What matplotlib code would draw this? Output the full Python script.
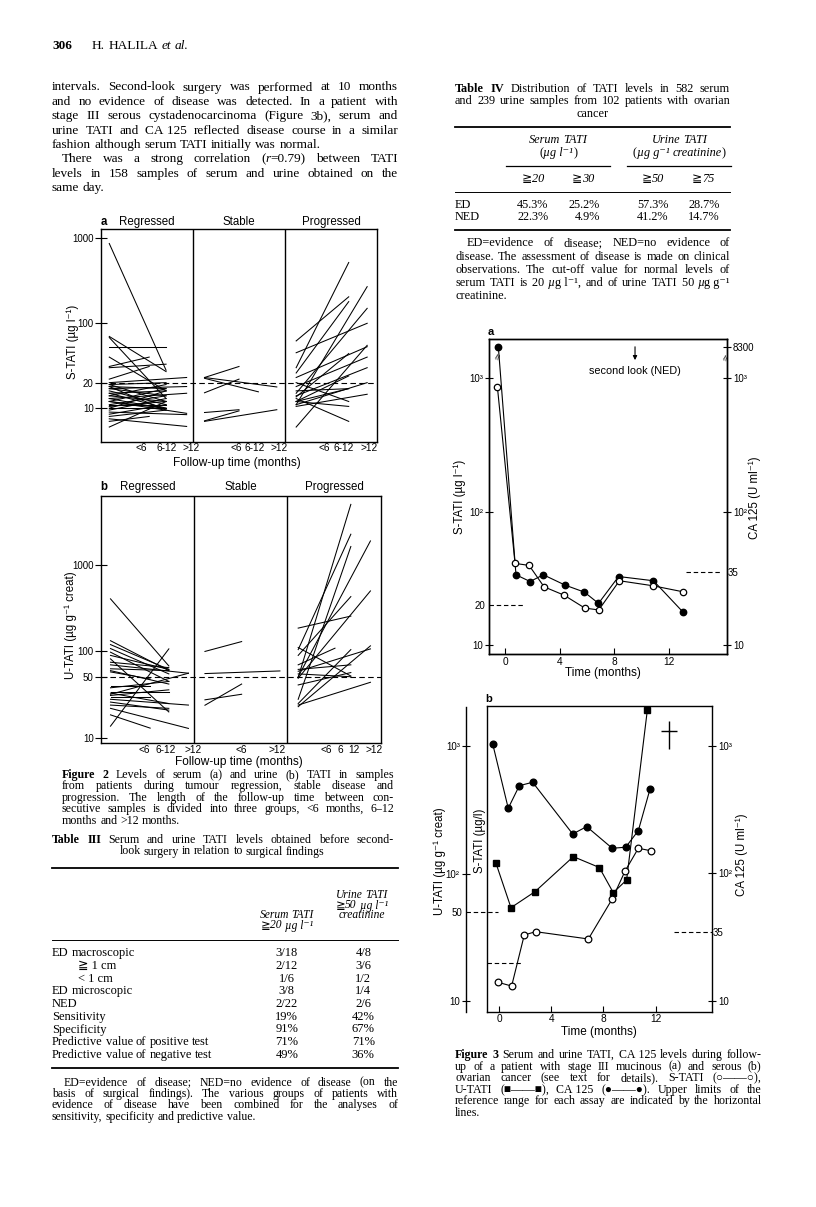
import re
import matplotlib
matplotlib.use("Agg")
import matplotlib.pyplot as plt
from matplotlib.lines import Line2D
from matplotlib.path import Path
from matplotlib.ticker import NullLocator
from matplotlib.transforms import blended_transform_factory as blend

W, H = 816, 1207
SERIF = ["Liberation Serif", "DejaVu Serif", "DejaVu Sans"]
SANS = ["Liberation Sans", "DejaVu Sans"]
plt.rcParams["font.family"] = SANS

# ---------------- Figure 2 data ----------------
# each line: start value, end value, follow-up group (0: <6, 1: 6-12, 2: >12 months)
REG_A_START = [870, 70, 68, 52, 40, 31, 30, 22, 20, 19, 19, 18, 18, 17, 17, 16, 15, 15, 14,
               14, 13, 13, 12, 12, 12, 11, 11, 10.5, 10, 10, 9.5, 9, 8.5, 8, 7.5, 7, 6]
REG_A_END = [28, 27, 13, 52, 16, 40, 33, 31, 23, 20, 12, 17, 9.5, 18, 14, 11, 16, 10, 19,
             12, 15, 9.8, 17, 10, 8.7, 14, 11, 12, 16, 10, 13, 8.4, 11, 9.5, 6.1, 8, 12]
REG_A_GRP = [1, 1, 1, 1, 1, 0, 1, 0, 2, 1, 1, 1, 1, 2, 1, 1, 1, 1, 1,
             1, 2, 1, 1, 1, 2, 1, 1, 1, 1, 1, 1, 2, 1, 1, 2, 0, 1]
STA_A_START = [23, 15.2, 22.5, 23, 8.9, 7.1, 7]
STA_A_END = [31, 22, 15.6, 17.8, 9.6, 9.3, 9.6]
STA_A_GRP = [0, 0, 1, 2, 0, 0, 2]
PRO_A_START = [62, 45, 30, 26, 23, 18, 15, 14, 13.6, 12, 12, 11, 11, 10.5, 13, 6, 12, 16, 20]
PRO_A_END = [205, 100, 520, 180, 53, 40, 150, 30, 44, 17, 10.5, 270, 20, 14.6, 7, 55, 24, 17, 12]
PRO_A_GRP = [1, 2, 1, 1, 2, 2, 2, 2, 1, 1, 1, 2, 2, 2, 1, 2, 1, 1, 1]

REG_B_START = [405, 133, 120, 108, 98, 90, 82, 75, 70, 63, 60, 58, 40, 38, 34, 33, 32, 30,
               28, 26, 24, 22, 18.5, 13.7, 31]
REG_B_END = [68, 60, 62, 55, 45, 62, 20, 65, 56, 60, 42, 48, 40, 45, 34, 25, 56, 30,
             24, 21, 22, 12.9, 13, 107, 36]
REG_B_GRP = [1, 1, 1, 1, 1, 1, 1, 1, 2, 1, 1, 0, 0, 1, 1, 1, 2, 0, 2, 1, 1, 2, 0, 1, 1]
STA_B_START = [100, 55.5, 23.9, 27.6]
STA_B_END = [130, 59.5, 42, 32]
STA_B_GRP = [0, 2, 0, 0]
PRO_B_START = [50, 105, 28, 51, 90, 49, 186, 70, 25, 23, 59, 62, 41, 55, 24, 111]
PRO_B_END = [5000, 2260, 1630, 1890, 430, 500, 256, 109, 105, 116, 107, 70, 57, 51, 44, 52]
PRO_B_GRP = [1, 1, 1, 2, 1, 2, 1, 0, 1, 2, 2, 1, 1, 1, 2, 1]

PANELS = ["Regressed", "Stable", "Progressed"]
A_TICKS = [["<6", "6-12", ">12"], ["<6", "6-12", ">12"], ["<6", "6-12", ">12"]]
B_TICKS = [["<6", "6-12", ">12"], ["<6", ">12"], ["<6", "6", "12", ">12"]]

# ---------------- Figure 3 data ----------------
A_MONTH_CA = [-0.49, 0.8, 1.83, 2.8, 4.39, 5.8, 6.83, 8.3, 10.85, 12.97]
A_CA125 = [8300, 33.6, 29.9, 33.6, 28.1, 24.9, 20.5, 32.6, 30.3, 17.8]
A_MONTH_S = [-0.56, 0.73, 1.76, 2.85, 4.32, 5.83, 6.85, 8.36, 10.8, 13.04]
A_STATI = [865, 40.9, 39.5, 27.3, 23.6, 18.9, 18.3, 30.3, 27.8, 25]
SECOND_LOOK = 9.5

B_MONTH_CA = [-0.48, 0.71, 1.56, 2.58, 5.65, 6.72, 8.68, 9.71, 10.68, 11.57]
B_CA125 = [1030, 323, 485, 516, 203, 232, 157, 160, 216, 455]
B_MONTH_U = [-0.23, 0.92, 2.76, 5.7, 7.69, 8.76, 9.78, 11.37]
B_UTATI = [120, 53.8, 71.8, 135, 111, 70.5, 88.7, 1900]
B_MONTH_S = [-0.05, 0.97, 1.94, 2.81, 6.85, 8.68, 9.66, 10.68, 11.65]
B_STATI = [14, 13.1, 32.9, 34.9, 30.6, 63, 104, 157, 150]
DEATH_MONTH = 13.05

S_LIMIT, U_LIMIT, CA_LIMIT = 20, 50, 35

# ---------------- helpers ----------------
fig = plt.figure(figsize=(W / 100, H / 100), dpi=100)
renderer = fig.canvas.get_renderer()


def ax_px(x0, y0, x1, y1):
    return fig.add_axes([x0 / W, 1 - y1 / H, (x1 - x0) / W, (y1 - y0) / H])


def tx(x, y, s, size=8.5, family=SANS, **kw):
    kw.setdefault("va", "center")
    kw.setdefault("ha", "center")
    return fig.text(x / W, 1 - y / H, s, fontsize=size, family=family, **kw)


def hrule(x0, x1, y, lw):
    fig.add_artist(Line2D([x0 / W, x1 / W], [1 - y / H, 1 - y / H], color="k", lw=lw))


MARK = re.compile(r"(\*[^*]+\*|_[^_]+_)")


def write(x0, y, s, size, x1=None, how="left"):
    rows = []
    for w in [w for w in s.split(" ") if w]:
        parts = []
        for p in MARK.split(w):
            if not p:
                continue
            style, weight = "normal", "normal"
            if p[0] == "*":
                p, weight = p[1:-1], "bold"
            elif p[0] == "_":
                p, style = p[1:-1], "italic"
            t = fig.text(0, 1 - y / H, p, fontsize=size, family=SERIF,
                         fontstyle=style, fontweight=weight, va="baseline")
            parts.append((t, t.get_window_extent(renderer).width))
        rows.append(parts)
    widths = [sum(w for _, w in r) for r in rows]
    gap = size * 100 / 72 * 0.25
    if how == "justify" and len(rows) > 1:
        gap = (x1 - x0 - sum(widths)) / (len(rows) - 1)
    total = sum(widths) + gap * (len(rows) - 1)
    x = {"left": x0, "justify": x0, "center": x0 - total / 2, "right": x0 - total}[how]
    for r in rows:
        for t, w in r:
            t.set_x(x / W)
            x += w
        x += gap


def para(x0, x1, y0, step, lines, size):
    for i, (s, how, ind) in enumerate(lines):
        write(x0 + ind, y0 + i * step, s, size, x1, how)


# ---------------- running head and text ----------------
write(52, 49, "*306*", 9.5)
write(92, 49, "H. HALILA _et_ _al._", 9.6)

para(52, 398, 90.5, 14.35, [
    ("intervals. Second-look surgery was performed at 10 months", "justify", 0),
    ("and no evidence of disease was detected. In a patient with", "justify", 0),
    ("stage III serous cystadenocarcinoma (Figure 3b), serum and", "justify", 0),
    ("urine TATI and CA\u00a0125 reflected disease course in a similar", "justify", 0),
    ("fashion although serum TATI initially was normal.", "left", 0),
    ("There was a strong correlation (_r_=0.79) between TATI", "justify", 10),
    ("levels in 158 samples of serum and urine obtained on the", "justify", 0),
    ("same day.", "left", 0),
], 9.5)

# ---------------- Table IV ----------------
para(455, 730, 91.5, 12.8, [
    ("*Table* *IV*  Distribution of TATI levels in 582 serum", "justify", 0),
    ("and 239 urine samples from 102 patients with ovarian", "justify", 0),
], 8.8)
write(592.5, 117, "cancer", 8.8, how="center")
hrule(455, 730, 126.7, 1.3)
write(558.3, 143, "_Serum_ _TATI_", 8.8, how="center")
write(558.3, 156.3, "(_\u00b5g\u00a0l\u207b\u00b9_)", 8.8, how="center")
write(679.3, 143, "_Urine_ _TATI_", 8.8, how="center")
write(679.3, 156.3, "(_\u00b5g\u00a0g\u207b\u00b9_ _creatinine_)", 8.8, how="center")
hrule(506, 610, 165.7, 0.9)
hrule(627, 730.5, 165.7, 0.9)
for xc, s in zip([533.3, 583.3, 653.3, 703.3], ["20", "30", "50", "75"]):
    write(xc, 182, "\u2267_" + s + "_", 8.8, how="center")
hrule(455, 730, 192.3, 0.7)
T4_ROWS = ["ED", "NED"]
T4_VALUES = [["45.3%", "25.2%", "57.3%", "28.7%"], ["22.3%", "4.9%", "41.2%", "14.7%"]]
for i, (name, vals) in enumerate(zip(T4_ROWS, T4_VALUES)):
    y = 208 + i * 12.4
    write(455, y, name, 8.8)
    for xr, v in zip([548.3, 600, 668.3, 720], vals):
        write(xr, y, v, 8.8, how="right")
hrule(455, 730, 230, 1.3)
para(455, 730, 246.5, 13.1, [
    ("ED=evidence of disease; NED=no evidence of", "justify", 12),
    ("disease. The assessment of disease is made on clinical", "justify", 0),
    ("observations. The cut-off value for normal levels of", "justify", 0),
    ("serum TATI is 20\u00a0_\u00b5_g\u00a0l\u207b\u00b9, and of urine TATI 50\u00a0_\u00b5_g\u00a0g\u207b\u00b9", "justify", 0),
    ("creatinine.", "left", 0),
], 8.8)


# ---------------- Figure 2 ----------------
def follow_up(box, ylim, ticks, cutoff, data, x0s, x1s, labels, lab_y, letter, ylabel, ylab_x, xlab_y):
    ax = ax_px(*box)
    ax.set_yscale("log")
    ax.set_ylim(*ylim)
    ax.set_xlim(0, 3)
    for p, (st, en, gr) in enumerate(data):
        for s, e, g in zip(st, en, gr):
            ax.plot([p + x0s[p], p + x1s[p][g]], [s, e], color="k", lw=0.75)
    for p in (1, 2):
        ax.axvline(p, color="k", lw=1)
    ax.axhline(cutoff, color="k", lw=0.8, dashes=(5, 3))
    ax.set_yticks(ticks, [str(t) for t in ticks])
    ax.yaxis.set_minor_locator(NullLocator())
    ax.set_xticks([])
    ax.tick_params(axis="y", direction="inout", length=8, width=0.8, pad=1, labelsize=7)
    for sp in ax.spines.values():
        sp.set_linewidth(1)
    tr = blend(ax.transData, ax.transAxes)
    for p, name in enumerate(PANELS):
        ax.text(p + 0.5, 1.035, name, transform=tr, ha="center", va="center", fontsize=8.3)
        for pos, lab in zip(labels[0][p], labels[1][p]):
            ax.text(p + pos, lab_y, lab, transform=tr, ha="center", va="center", fontsize=7.3)
    ax.text(0.0, 1.035, letter, transform=tr, ha="left", va="center", fontsize=8.3, fontweight="bold")
    x0, y0, x1, y1 = box
    tx(ylab_x, (y0 + y1) / 2 + 6, ylabel, size=8.3, rotation=90)
    tx((x0 + x1) / 2 - 2, xlab_y, "Follow-up time (months)", size=8.6)
    return ax


A_POS = [[0.44, 0.71, 0.98], [0.466, 0.674, 0.932], [0.43, 0.64, 0.91]]
B_POS = [[0.467, 0.696, 0.99], [0.505, 0.894], [0.418, 0.567, 0.713, 0.93]]

follow_up((100.7, 229, 377.3, 442), (4.0, 1290), [10, 20, 100, 1000], S_LIMIT,
          [(REG_A_START, REG_A_END, REG_A_GRP), (STA_A_START, STA_A_END, STA_A_GRP),
           (PRO_A_START, PRO_A_END, PRO_A_GRP)],
          [0.093, 0.126, 0.12], [[0.526, 0.709, 0.932], [0.50, 0.71, 0.91], [0.55, 0.69, 0.89]],
          (A_POS, A_TICKS), -0.03, "a", "S-TATI (\u00b5g l\u207b\u00b9)", 73, 463.3)

follow_up((100.7, 496, 380.7, 743), (8.75, 6250), [10, 50, 100, 1000], U_LIMIT,
          [(REG_B_START, REG_B_END, REG_B_GRP), (STA_B_START, STA_B_END, STA_B_GRP),
           (PRO_B_START, PRO_B_END, PRO_B_GRP)],
          [0.105, 0.117, 0.116], [[0.53, 0.73, 0.94], [0.51, 0.70, 0.92], [0.51, 0.68, 0.89]],
          (B_POS, B_TICKS), -0.028, "b", "U-TATI (\u00b5g g\u207b\u00b9 creat)", 71, 761.7)

para(62, 394, 778, 11.4, [
    ("*Figure* *2*  Levels of serum (a) and urine (b) TATI in samples", "justify", 0),
    ("from patients during tumour regression, stable disease and", "justify", 0),
    ("progression. The length of the follow-up time between con-", "justify", 0),
    ("secutive samples is divided into three groups, <6 months, 6\u201312", "justify", 0),
    ("months and >12 months.", "left", 0),
], 8.6)

# ---------------- Table III ----------------
write(52, 843, "*Table* *III*  Serum and urine TATI levels obtained before second-", 8.6, 394, "justify")
write(222, 854.5, "look surgery in relation to surgical findings", 8.6, how="center")
hrule(52, 398, 868.3, 1.3)
write(361.7, 898, "_Urine_ _TATI_", 8.3, how="center")
write(361.7, 908.5, "\u2267_50_\u00a0_\u00b5g\u00a0l\u207b\u00b9_", 8.3, how="center")
write(286.7, 918.5, "_Serum_ _TATI_", 8.3, how="center")
write(361.7, 918.5, "_creatinine_", 8.3, how="center")
write(286.7, 928.5, "\u2267_20_\u00a0_\u00b5g\u00a0l\u207b\u00b9_", 8.3, how="center")
hrule(52, 398, 940, 0.7)
T3_ROWS = ["ED macroscopic", "\u2267\u00a01\u00a0cm", "<\u00a01\u00a0cm", "ED microscopic", "NED",
           "Sensitivity", "Specificity", "Predictive value of positive test",
           "Predictive value of negative test"]
T3_SERUM = ["3/18", "2/12", "1/6", "3/8", "2/22", "19%", "91%", "71%", "49%"]
T3_URINE = ["4/8", "3/6", "1/2", "1/4", "2/6", "42%", "67%", "71%", "36%"]
for i, (name, s, u) in enumerate(zip(T3_ROWS, T3_SERUM, T3_URINE)):
    y = 956.3 + i * 12.7
    write(78 if i in (1, 2) else 52, y, name, 9.0)
    write(286.7, y, s, 9.0, how="center")
    write(363.3, y, u, 9.0, how="center")
hrule(52, 398, 1068.3, 1.3)
para(52, 398, 1085.7, 11.3, [
    ("ED=evidence of disease; NED=no evidence of disease (on the", "justify", 12),
    ("basis of surgical findings). The various groups of patients with", "justify", 0),
    ("evidence of disease have been combined for the analyses of", "justify", 0),
    ("sensitivity, specificity and predictive value.", "left", 0),
], 8.5)

# ---------------- Figure 3a ----------------
TICK = dict(direction="inout", length=6, width=0.8, labelsize=7, pad=1.5)
ax = ax_px(489.3, 339.3, 726.7, 654)
ax.set_yscale("log")
A_TOP = 1963
BREAK_POS = 1729  # where the off-scale CA 125 value is drawn
ax.set_ylim(8.55, A_TOP)
ax.set_xlim(-1.15, 16.2)
ca_shown = [v if v < A_TOP else BREAK_POS for v in A_CA125]
ax.plot(A_MONTH_CA, ca_shown, color="k", lw=0.8, marker="o", ms=4.6, mfc="k", mec="k", zorder=3)
ax.plot(A_MONTH_S, A_STATI, color="k", lw=0.8, marker="o", ms=4.6, mfc="w", mec="k", mew=0.9, zorder=4)
ax.axhline(S_LIMIT, xmin=0, xmax=0.15, color="k", lw=0.8, dashes=(4, 2.5))
ax.axhline(CA_LIMIT, xmin=0.83, xmax=0.98, color="k", lw=0.8, dashes=(4, 2.5))
ax.set_xticks([0, 4, 8, 12], ["0", "4", "8", "12"])
ax.tick_params(axis="x", direction="in", length=4, width=0.8, labelsize=7.3, pad=2)
ax.set_yticks([10, 100, 1000], ["10", "10\u00b2", "10\u00b3"])
ax.yaxis.set_minor_locator(NullLocator())
ax.set_yticks([S_LIMIT], ["20"], minor=True)
ax.tick_params(axis="y", **TICK)
ax.tick_params(axis="y", which="minor", length=0, labelsize=7, pad=3)
ar = ax.twinx()
ar.set_yscale("log")
ar.set_ylim(8.55, A_TOP)
ar.set_yticks([10, 100, 1000, BREAK_POS], ["10", "10\u00b2", "10\u00b3", "8300"])
ar.yaxis.set_minor_locator(NullLocator())
ar.set_yticks([CA_LIMIT], ["35"], minor=True)
ar.tick_params(axis="y", **TICK)
ar.tick_params(axis="y", which="minor", length=0, labelsize=7, pad=1)
for a in (ax, ar):
    for sp in a.spines.values():
        sp.set_linewidth(1)
tr = blend(ax.transData, ax.transAxes)
ax.annotate("", xy=(SECOND_LOOK, 0.925), xytext=(SECOND_LOOK, 0.985), xycoords=tr, textcoords=tr,
            arrowprops=dict(arrowstyle="-|>", lw=0.8, color="k", mutation_scale=6))
ax.text(SECOND_LOOK, 0.9, "second look (NED)", transform=tr, ha="center", va="center", fontsize=7.8)
ax.text(A_MONTH_CA[0] + 0.05, 0.945, "\u2248", transform=tr, ha="center", va="center",
        fontsize=8, rotation=70)
ax.text(1.0, 0.94, "\u2248", transform=ax.transAxes, ha="center", va="center", fontsize=8,
        rotation=70, clip_on=False)
tx(490.5, 331.7, "a", size=8, fontweight="bold")
tx(460, 497, "S-TATI (\u00b5g l\u207b\u00b9)", size=8.3, rotation=90)
tx(755, 498, "CA 125 (U ml\u207b\u00b9)", size=8.3, rotation=90)
tx(603, 673, "Time (months)", size=8.5)

# ---------------- Figure 3b ----------------
B_YLIM = (8.25, 2040)
bx = ax_px(486.7, 706, 711.7, 1011.7)
bx.set_yscale("log")
bx.set_ylim(*B_YLIM)
bx.set_xlim(-0.94, 16.3)
bx.plot(B_MONTH_CA, B_CA125, color="k", lw=0.8, marker="o", ms=4.8, mfc="k", mec="k", zorder=3)
bx.plot(B_MONTH_U, B_UTATI, color="k", lw=0.8, marker="s", ms=4.3, mfc="k", mec="k", zorder=3,
        clip_on=False)
bx.plot(B_MONTH_S, B_STATI, color="k", lw=0.8, marker="o", ms=4.8, mfc="w", mec="k", mew=0.9,
        zorder=4)
bx.axhline(S_LIMIT, xmin=0, xmax=0.151, color="k", lw=0.8, dashes=(4, 2.5))
bx.axhline(CA_LIMIT, xmin=0.832, xmax=1.0, color="k", lw=0.8, dashes=(4, 2.5))
dagger = Path([(0, -1), (0, 1), (-0.55, 0.3), (0.55, 0.3)],
              [Path.MOVETO, Path.LINETO, Path.MOVETO, Path.LINETO])
bx.plot([DEATH_MONTH], [0.905], marker=dagger, ms=20, mew=1, color="k",
        transform=blend(bx.transData, bx.transAxes))
bx.set_xticks([0, 4, 8, 12], ["0", "4", "8", "12"])
bx.tick_params(axis="x", direction="in", length=4, width=0.8, labelsize=7.3, pad=2)
bx.yaxis.tick_right()
bx.set_yticks([10, 100, 1000], ["10", "10\u00b2", "10\u00b3"])
bx.yaxis.set_minor_locator(NullLocator())
bx.set_yticks([CA_LIMIT], ["35"], minor=True)
bx.tick_params(axis="y", **TICK)
bx.tick_params(axis="y", which="minor", length=0, labelsize=7, pad=1)
for sp in bx.spines.values():
    sp.set_linewidth(1)

ux = ax_px(466, 706.7, 486.7, 1011.7)
ux.patch.set_visible(False)
ux.set_yscale("log")
ux.set_ylim(*B_YLIM)
ux.set_xlim(0, 1)
for side in ("top", "right", "bottom"):
    ux.spines[side].set_visible(False)
ux.spines["left"].set_linewidth(1)
ux.set_xticks([])
ux.set_yticks([10, 100, 1000], ["10", "10\u00b2", "10\u00b3"])
ux.yaxis.set_minor_locator(NullLocator())
ux.set_yticks([U_LIMIT], ["50"], minor=True)
ux.tick_params(axis="y", **TICK)
ux.tick_params(axis="y", which="minor", length=0, labelsize=7, pad=3)
ux.plot([0, 1.56], [U_LIMIT, U_LIMIT], color="k", lw=0.8, dashes=(4, 2.5), clip_on=False,
        transform=blend(ux.transAxes, ux.transData))
tx(488.5, 699.5, "b", size=8, fontweight="bold")
tx(439.5, 861, "U-TATI (\u00b5g g\u207b\u00b9 creat)", size=8.3, rotation=90)
tx(480, 841, "S-TATI (\u00b5g/l)", size=8.3, rotation=90)
tx(742, 855, "CA 125 (U ml\u207b\u00b9)", size=8.3, rotation=90)
tx(598.5, 1031.7, "Time (months)", size=8.5)

para(455, 761.7, 1058, 11.6, [
    ("*Figure* *3*  Serum and urine TATI, CA\u00a0125 levels during follow-", "justify", 0),
    ("up of a patient with stage III mucinous (a) and serous (b)", "justify", 0),
    ("ovarian cancer (see text for details). S-TATI (\u25cb\u2014\u2014\u25cb),", "justify", 0),
    ("U-TATI (\u25a0\u2014\u2014\u25a0), CA\u00a0125 (\u25cf\u2014\u2014\u25cf). Upper limits of the", "justify", 0),
    ("reference range for each assay are indicated by the horizontal", "justify", 0),
    ("lines.", "left", 0),
], 8.6)

fig.savefig("out.png", dpi=100)
